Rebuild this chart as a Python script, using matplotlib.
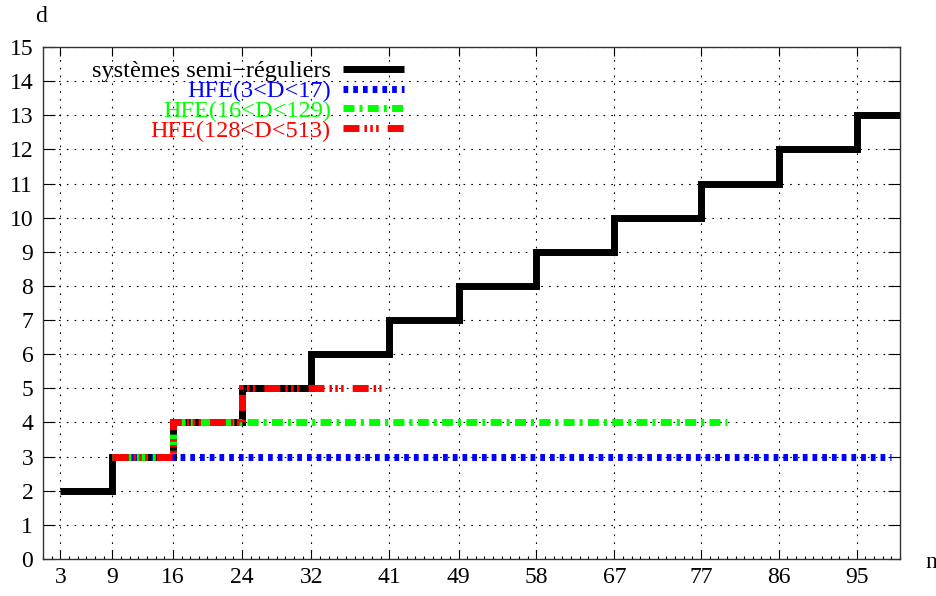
import matplotlib
matplotlib.use("Agg")
import matplotlib.pyplot as plt
from matplotlib.ticker import MultipleLocator

# semi-regular systems
n_semi = [3, 9, 16, 24, 32, 41, 49, 58, 67, 77, 86, 95, 100]
d_semi = [2, 3, 4, 5, 6, 7, 8, 9, 10, 11, 12, 13, 13]
# HFE curves
n_hfe1 = [9, 99]
d_hfe1 = [3, 3]
n_hfe2 = [9, 16, 80]
d_hfe2 = [3, 4, 4]
n_hfe3 = [9, 16, 24, 40]
d_hfe3 = [3, 4, 5, 5]

xticks = [3, 9, 16, 24, 32, 41, 49, 58, 67, 77, 86, 95]
yticks = list(range(16))

plt.rcParams['font.family'] = ['Liberation Serif', 'DejaVu Serif']
plt.rcParams['lines.scale_dashes'] = False

fig = plt.figure(figsize=(9.36, 5.96), dpi=100)
ax = fig.add_axes([43/936, 1-559/596, 857/936, 512/596])

lw = 5
common = dict(lw=lw, where='post', dash_capstyle='butt', solid_capstyle='butt',
              solid_joinstyle='miter', dash_joinstyle='miter')
ax.step(n_semi, d_semi, color='black', label='systèmes semi\u2212réguliers', **common)
ax.step(n_hfe1, d_hfe1, color='#0000ff', label='HFE(3<D<17)',
        dashes=(3.4, 3.6), **common)
ax.step(n_hfe2, d_hfe2, color='#00ff00', label='HFE(16<D<129)',
        dashes=(7.9, 3.6, 2.2, 3.8), **common)
ax.step(n_hfe3, d_hfe3, color='#ff0000', label='HFE(128<D<513)',
        dashes=(11.5, 3.6, 1.8, 2.4, 1.8, 2.4, 1.8, 6.5), **common)

ax.set_xlim(1, 100)
ax.set_ylim(0, 15)
ax.set_xticks(xticks)
ax.set_yticks(yticks)
ax.xaxis.set_minor_locator(MultipleLocator(1))
ax.tick_params(axis='x', which='major', direction='in', length=6.5, width=0.8,
               top=True, labelsize=17, pad=6)
ax.tick_params(axis='x', which='minor', direction='in', length=2.5, width=0.8,
               top=False)
ax.tick_params(axis='y', which='major', direction='in', length=8.5, width=0.8,
               right=True, labelsize=17, pad=7)
ax.set_axisbelow(True)
ax.grid(True, which='major', color='black', lw=0.8, dashes=(1.2, 4.4))
for s in ax.spines.values():
    s.set_linewidth(1.0)
    s.set_color('#333333')

leg = ax.legend(loc='upper right', bbox_to_anchor=(0.421, 0.974),
                frameon=False, markerfirst=False, fontsize=17.5,
                handlelength=2.5, handletextpad=0.5, labelspacing=-0.09,
                borderpad=0, borderaxespad=0, labelcolor='linecolor')

fig.text(41/936, 1-17/596, 'd', fontsize=17, ha='center', va='center')
fig.text(925/936, 1-563/596, 'n', fontsize=17, ha='left', va='center')

fig.savefig('out.png', dpi=100)
